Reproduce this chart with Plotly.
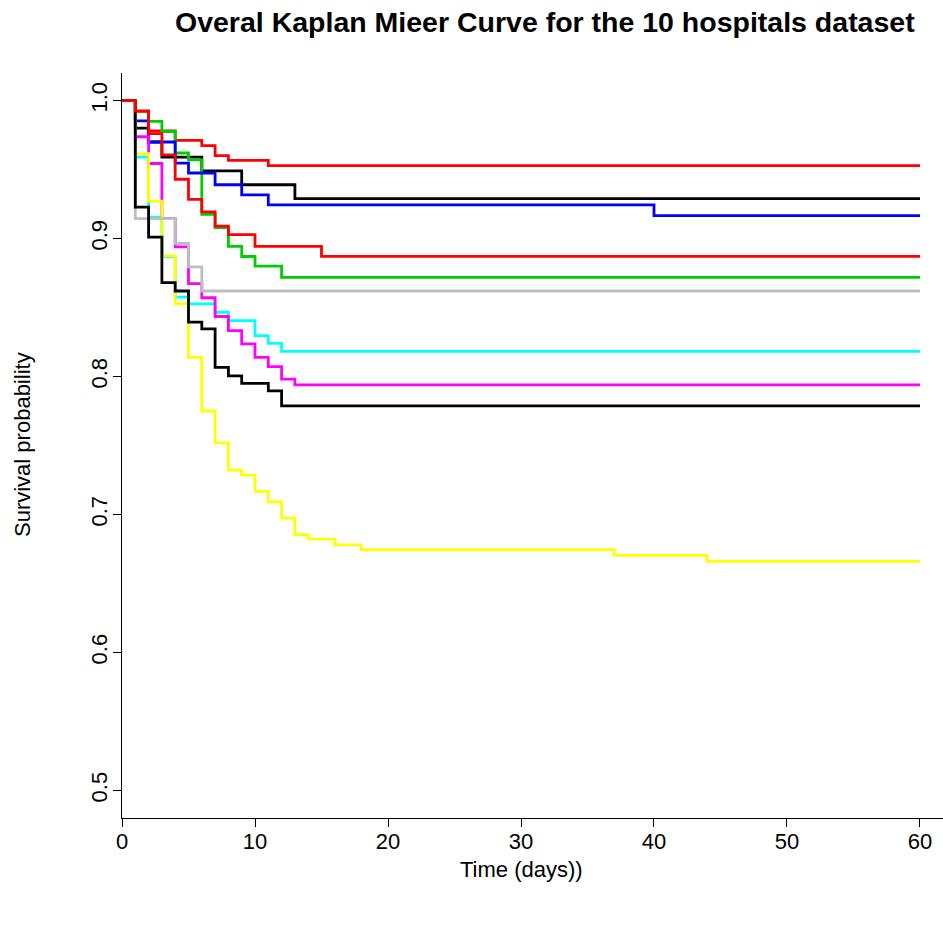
import plotly.graph_objects as go

# ---- data ----
t1 = [1, 2, 3, 6, 9, 13]
s1 = [0.980, 0.970, 0.959, 0.949, 0.939, 0.929]

t2 = [1, 2, 4, 6, 7, 8, 11]
s2 = [0.9924, 0.978, 0.9712, 0.9673, 0.9601, 0.9566, 0.9528]

t3 = [1, 2, 3, 4, 5, 6, 7, 8, 9, 10, 12]
s3 = [0.9924, 0.985, 0.9776, 0.962, 0.957, 0.9175, 0.908, 0.8944, 0.887, 0.880, 0.8718]

t4 = [1, 2, 4, 5, 7, 9, 11, 40]
s4 = [0.9853, 0.970, 0.9547, 0.9475, 0.939, 0.9317, 0.9244, 0.9166]

t5 = [1, 2, 3, 4, 5, 7, 8, 10, 11, 12]
s5 = [0.959, 0.9155, 0.887, 0.8576, 0.8527, 0.8466, 0.8405, 0.8296, 0.824, 0.8182]

t6 = [1, 2, 3, 4, 5, 6, 7, 8, 9, 10, 11, 12, 13]
s6 = [0.9738, 0.9544, 0.9145, 0.894, 0.8673, 0.8571, 0.8435, 0.8333, 0.8236, 0.8139, 0.8071, 0.7981, 0.794]

t7 = [1, 2, 3, 4, 5, 6, 7, 8, 9, 10, 11, 12, 13, 14, 16, 18, 37, 44]
s7 = [0.9615, 0.9272, 0.8875, 0.8527, 0.8139, 0.775, 0.7519, 0.7321, 0.7285, 0.7168,
      0.7091, 0.6974, 0.6853, 0.6821, 0.678, 0.6745, 0.6704, 0.666]

t8 = [1, 4, 5, 6]
s8 = [0.9145, 0.8964, 0.8795, 0.862]

t9 = [1, 2, 3, 4, 5, 6, 7, 8, 9, 11, 12]
s9 = [0.9228, 0.901, 0.868, 0.862, 0.8394, 0.8346, 0.8066, 0.8005, 0.795, 0.7896, 0.7787]

t10 = [1, 2, 3, 4, 5, 6, 7, 8, 10, 15]
s10 = [0.9924, 0.976, 0.9607, 0.943, 0.9284, 0.9194, 0.909, 0.9029, 0.8944, 0.8871]

times = [t1, t2, t3, t4, t5, t6, t7, t8, t9, t10]
survs = [s1, s2, s3, s4, s5, s6, s7, s8, s9, s10]
colors = ["#000000", "#FF0000", "#00CD00", "#0000FF", "#00FFFF",
          "#FF00FF", "#FFFF00", "#BEBEBE", "#000000", "#FF0000"]
end_time = 60

x_ticks = [0, 10, 20, 30, 40, 50, 60]
y_ticks = [0.5, 0.6, 0.7, 0.8, 0.9, 1.0]
y_ticktext = ["0.5", "0.6", "0.7", "0.8", "0.9", "1.0"]

FONT = "Liberation Sans, Arial, sans-serif"
LABEL_SIZE = 22
TITLE_SIZE = 28.5

fig = go.Figure()
for t, s, c in zip(times, survs, colors):
    xs = [0] + t + [end_time]
    ys = [1.0] + s + [s[-1]]
    fig.add_trace(go.Scatter(x=xs, y=ys, mode="lines", line_shape="hv",
                             line=dict(color=c, width=2.8), showlegend=False,
                             hoverinfo="skip"))

fig.update_layout(
    width=943, height=938,
    margin=dict(l=122, r=0, t=73, b=120),
    plot_bgcolor="white", paper_bgcolor="white",
    font=dict(family=FONT, size=LABEL_SIZE, color="black"),
    showlegend=False,
)
fig.update_xaxes(range=[0, 61.73], tickvals=x_ticks, showline=True, linecolor="black",
                 linewidth=1.3, ticks="outside", ticklen=8, tickcolor="black",
                 tickwidth=1.3, showgrid=False, zeroline=False,
                 ticklabelstandoff=-5,
                 tickfont=dict(family=FONT, size=LABEL_SIZE, color="black"))
fig.update_yaxes(range=[0.48, 1.02], tickvals=y_ticks, ticktext=y_ticktext,
                 tickangle=-90, showline=True, linecolor="black", linewidth=1.3,
                 ticks="outside", ticklen=8, tickcolor="black", tickwidth=1.3,
                 showgrid=False, zeroline=False, ticklabelstandoff=-3,
                 tickfont=dict(family=FONT, size=LABEL_SIZE, color="black"))

fig.add_annotation(text="<b>Overal Kaplan Mieer Curve for the 10 hospitals dataset</b>",
                   xref="paper", yref="paper", x=(545 - 122) / 821, y=(818 - 22) / 745,
                   showarrow=False, xanchor="center", yanchor="middle",
                   font=dict(family=FONT, size=TITLE_SIZE, color="black"))
fig.add_annotation(text="Time (days))", xref="paper", yref="paper",
                   x=(521 - 122) / 821, y=(818 - 869) / 745, showarrow=False,
                   xanchor="center", yanchor="middle",
                   font=dict(family=FONT, size=LABEL_SIZE, color="black"))
fig.add_annotation(text="Survival probability", xref="paper", yref="paper",
                   x=(22 - 122) / 821, y=(818 - 445) / 745, showarrow=False,
                   textangle=-90, xanchor="center", yanchor="middle",
                   font=dict(family=FONT, size=LABEL_SIZE, color="black"))

fig.write_html("out.html")
